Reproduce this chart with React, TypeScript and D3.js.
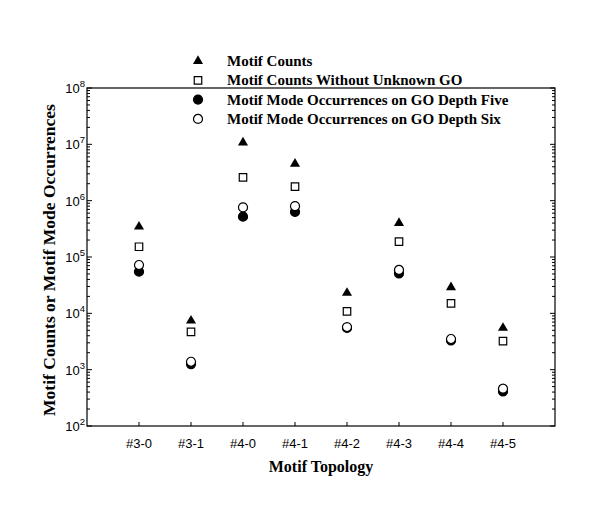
import * as d3 from 'd3';
import React, { useRef, useEffect } from 'react';

const categories = ['#3-0', '#3-1', '#4-0', '#4-1', '#4-2', '#4-3', '#4-4', '#4-5'];
const motifCounts = [3.45e5, 7.4e3, 1.07e7, 4.5e6, 2.3e4, 4.0e5, 2.9e4, 5.5e3];
const countsNoUnknown = [1.52e5, 4.7e3, 2.6e6, 1.77e6, 1.08e4, 1.87e5, 1.5e4, 3.2e3];
const depthFive = [5.5e4, 1.26e3, 5.2e5, 6.3e5, 5.5e3, 5.1e4, 3.3e3, 4.1e2];
const depthSix = [7.2e4, 1.38e3, 7.6e5, 8.0e5, 5.7e3, 5.9e4, 3.5e3, 4.6e2];
const legendLabels = [
  'Motif Counts',
  'Motif Counts Without Unknown GO',
  'Motif Mode Occurrences on GO Depth Five',
  'Motif Mode Occurrences on GO Depth Six',
];
const yExponents = [2, 3, 4, 5, 6, 7, 8];

export default function App() {
  const ref = useRef<SVGSVGElement>(null);
  const width = 600;
  const height = 518;
  const left = 87, right = 555, top = 88, bottom = 426;

  useEffect(() => {
    const svg = d3.select(ref.current);
    svg.selectAll('*').remove();

    const x = d3.scaleLinear().domain([0, categories.length + 1]).range([left, right]);
    const y = d3.scaleLog().domain([1e2, 1e8]).range([bottom, top]);

    // frame
    svg.append('rect')
      .attr('x', left).attr('y', top)
      .attr('width', right - left).attr('height', bottom - top)
      .attr('fill', 'none').attr('stroke', '#000').attr('stroke-width', 1.2);

    // y ticks (left and right, inward)
    const major = yExponents.map(e => Math.pow(10, e));
    const minor: number[] = [];
    yExponents.slice(0, -1).forEach(e => {
      for (let k = 2; k <= 9; k++) minor.push(k * Math.pow(10, e));
    });
    [left, right].forEach(ax => {
      const dir = ax === left ? 1 : -1;
      svg.append('g').selectAll('line.major').data(major).enter().append('line')
        .attr('x1', ax).attr('x2', ax + dir * 5)
        .attr('y1', d => y(d)).attr('y2', d => y(d))
        .attr('stroke', '#000').attr('stroke-width', 1);
      svg.append('g').selectAll('line.minor').data(minor).enter().append('line')
        .attr('x1', ax).attr('x2', ax + dir * 3)
        .attr('y1', d => y(d)).attr('y2', d => y(d))
        .attr('stroke', '#000').attr('stroke-width', 1);
    });

    // y tick labels
    const yl = svg.append('g').selectAll('text').data(yExponents).enter().append('text')
      .attr('x', left - 2).attr('y', e => y(Math.pow(10, e)) + 5)
      .attr('text-anchor', 'end')
      .style('font-family', 'Liberation Sans, Arial, sans-serif')
      .style('font-size', '13px');
    yl.append('tspan').text('10');
    yl.append('tspan').attr('dy', -6).style('font-size', '9.5px').text(e => String(e));

    // x ticks and labels
    svg.append('g').selectAll('line').data(categories).enter().append('line')
      .attr('x1', (d, i) => x(i + 1)).attr('x2', (d, i) => x(i + 1))
      .attr('y1', bottom).attr('y2', bottom - 4)
      .attr('stroke', '#000').attr('stroke-width', 1);
    svg.append('g').selectAll('text').data(categories).enter().append('text')
      .attr('x', (d, i) => x(i + 1)).attr('y', bottom + 22)
      .attr('text-anchor', 'middle')
      .style('font-family', 'Liberation Sans, Arial, sans-serif')
      .style('font-size', '13px')
      .text(d => d);

    // axis titles
    svg.append('text')
      .attr('x', (left + right) / 2).attr('y', 472)
      .attr('text-anchor', 'middle')
      .style('font-family', 'Liberation Serif, Times New Roman, serif')
      .style('font-weight', 'bold').style('font-size', '16px')
      .text('Motif Topology');
    svg.append('text')
      .attr('transform', `translate(55,260) rotate(-90)`)
      .attr('text-anchor', 'middle')
      .style('font-family', 'Liberation Serif, Times New Roman, serif')
      .style('font-weight', 'bold').style('font-size', '17.5px')
      .text('Motif Counts or Motif Mode Occurrences');

    // series
    const tri = d3.symbol().type(d3.symbolTriangle).size(44)();
    const sq = d3.symbol().type(d3.symbolSquare).size(56)();
    const circ = d3.symbol().type(d3.symbolCircle).size(64)();
    const series = [
      { values: motifCounts, path: tri, fill: '#000', stroke: 'none' },
      { values: countsNoUnknown, path: sq, fill: '#fff', stroke: '#000' },
      { values: depthFive, path: circ, fill: '#000', stroke: '#000' },
      { values: depthSix, path: circ, fill: '#fff', stroke: '#000' },
    ];
    series.forEach(s => {
      svg.append('g').selectAll('path').data(s.values).enter().append('path')
        .attr('d', s.path)
        .attr('transform', (d, i) => `translate(${x(i + 1)},${y(d)})`)
        .attr('fill', s.fill).attr('stroke', s.stroke).attr('stroke-width', 1.2);
    });

    // legend
    const lg = svg.append('g');
    series.forEach((s, i) => {
      const ly = 61 + i * 19.3;
      lg.append('path').attr('d', s.path)
        .attr('transform', `translate(198,${ly})`)
        .attr('fill', s.fill).attr('stroke', s.stroke).attr('stroke-width', 1.2);
      lg.append('text')
        .attr('x', 227).attr('y', ly + 5)
        .style('font-family', 'Liberation Serif, Times New Roman, serif')
        .style('font-weight', 'bold').style('font-size', '15px')
        .text(legendLabels[i]);
    });
  }, []);

  return (
    <svg ref={ref} width={width} height={height}
      style={{ position: 'absolute', left: 0, top: 0, background: '#fff' }} />
  );
}
